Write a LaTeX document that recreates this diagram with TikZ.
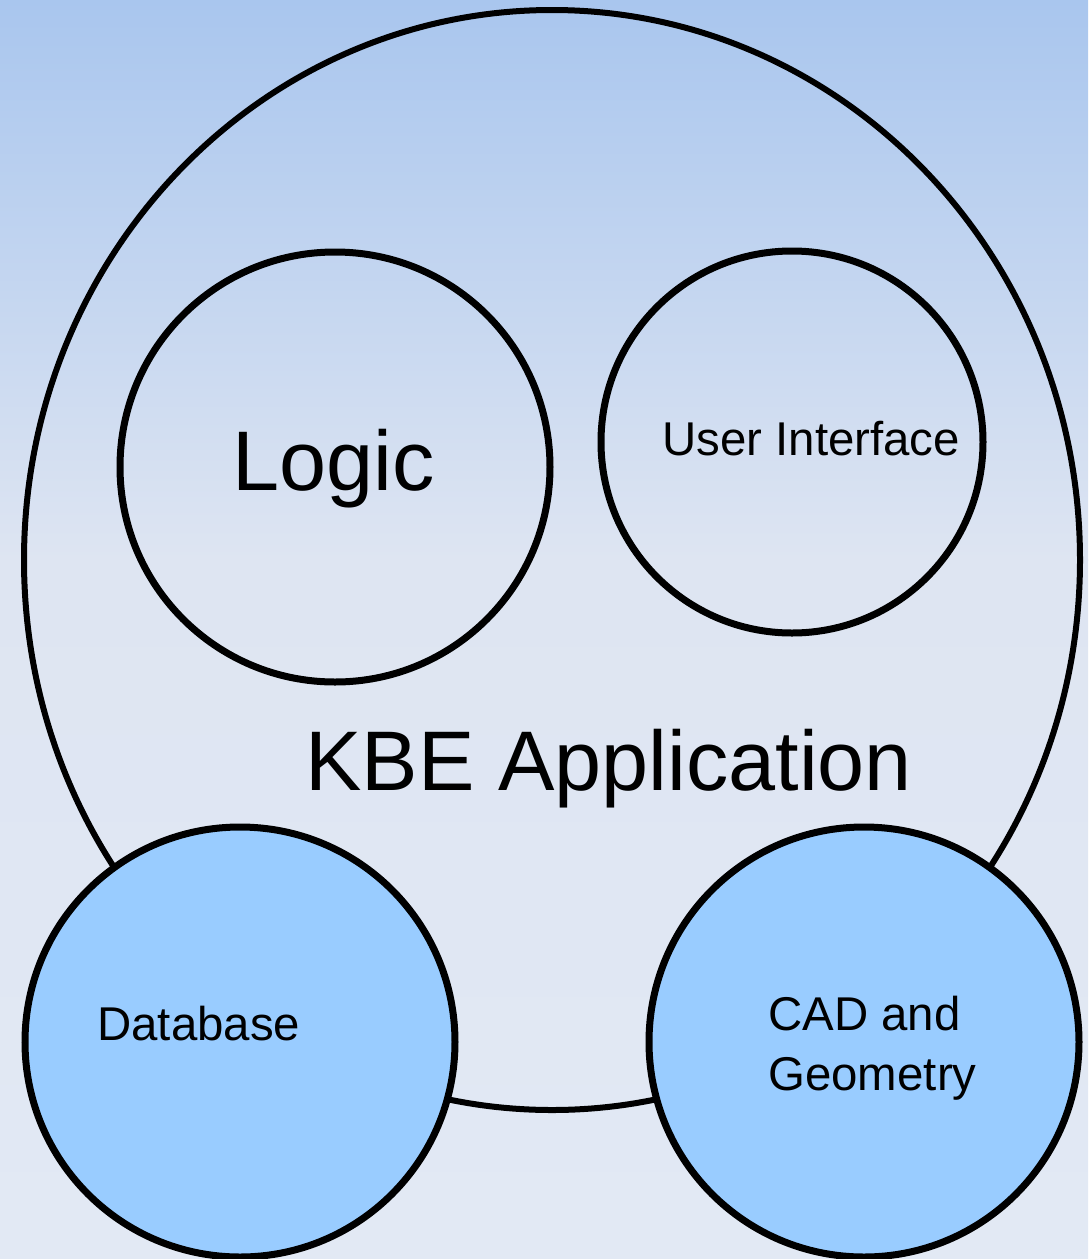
\documentclass[tikz,border=0pt]{standalone}
\usepackage{fontspec}
\setmainfont{Liberation Sans}
\usetikzlibrary{shapes.geometric}
\definecolor{bgtop}{HTML}{A9C6EE}
\definecolor{bgmid}{HTML}{DEE5F2}
\definecolor{bgbot}{HTML}{E2E9F4}
\definecolor{partblue}{HTML}{99CCFF}

\begin{document}
\begin{tikzpicture}[
  x=0.5pt, y=-0.5pt,
  ring/.style={draw, circle, line width=3.5pt, inner sep=0pt},
  part/.style={ring, fill=partblue},
  lbl/.style={anchor=base west, inner sep=0pt, font=\fontsize{23.7}{30}\selectfont},
  title/.style={anchor=base west, inner sep=0pt, font=\fontsize{42.3}{50}\selectfont}
]
  % sfondo sfumato
  \shade[top color=bgtop, bottom color=bgmid] (0,0) rectangle (1088,560);
  \shade[top color=bgmid, bottom color=bgbot] (0,559) rectangle (1088,1259);
  \useasboundingbox (0,0) rectangle (1088,1259);

  % applicazione e moduli interni
  \node[draw, ellipse, line width=3pt, inner sep=0pt, minimum width=528pt, minimum height=550pt] (app) at (552,560) {};
  \node[ring, minimum size=215pt] (logic) at (335,467) {};
  \node[ring, minimum size=191pt] (ui) at (792,442) {};

  % moduli esterni
  \node[part, minimum size=215pt] (db) at (240,1042) {};
  \node[part, minimum size=215pt] (cad) at (864,1042) {};

  % testi
  \node[title] (logictxt) at (232,490) {Logic};
  \node[lbl] (uitxt) at (662,455) {User Interface};
  \node[title] (apptxt) at (305,790) {KBE Application};
  \node[lbl] (dbtxt) at (97,1040) {Database};
  \node[lbl, align=left] (cadtxt) at (768,1090) {CAD and\\Geometry};
\end{tikzpicture}
\end{document}
